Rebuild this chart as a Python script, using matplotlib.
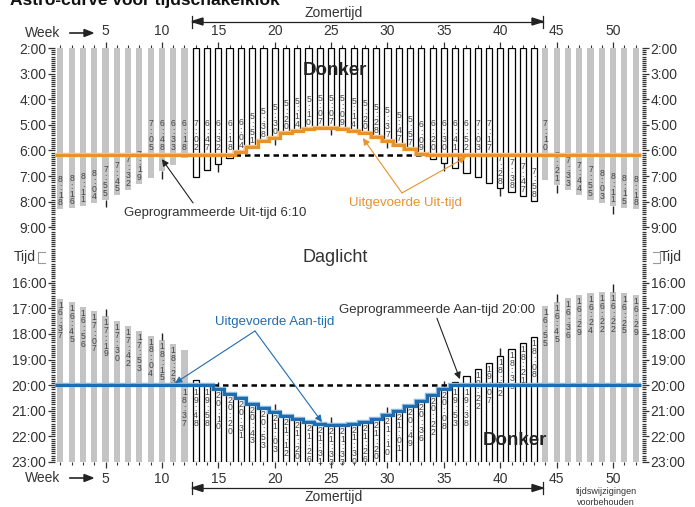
import numpy as np
import matplotlib.pyplot as plt

plt.rcParams['font.family'] = ['Liberation Sans', 'DejaVu Sans']

# ---- data -------------------------------------------------------------
weeks = list(range(1, 53))
summer_weeks = list(range(13, 44))   # zomertijd

sunrise = ['8:18', '8:16', '8:11', '8:04', '7:55', '7:45', '7:32', '7:19', '7:05', '6:48',
           '6:33', '6:18', '7:02', '6:47', '6:32', '6:18', '6:04', '5:51', '5:38', '5:30',
           '5:20', '5:14', '5:10', '5:07', '5:07', '5:09', '5:14', '5:20', '5:28', '5:37',
           '5:47', '5:57', '6:09', '6:20', '6:30', '6:41', '6:52', '7:03', '7:17', '7:28',
           '7:38', '7:47', '7:58', '7:10', '7:21', '7:33', '7:44', '7:55', '8:03', '8:11',
           '8:15', '8:18']
sunset = ['16:37', '16:45', '16:56', '17:07', '17:19', '17:30', '17:42', '17:53', '18:04', '18:15',
          '18:23', '18:37', '19:48', '19:58', '20:10', '20:20', '20:31', '20:43', '20:53', '21:03',
          '21:12', '21:20', '21:26', '21:31', '21:33', '21:33', '21:30', '21:26', '21:20', '21:10',
          '21:01', '20:49', '20:36', '20:22', '20:08', '19:53', '19:38', '19:22', '19:07', '18:52',
          '18:35', '18:21', '18:08', '16:55', '16:45', '16:36', '16:29', '16:24', '16:22', '16:22',
          '16:25', '16:29']
uit_tijd = '6:10'
aan_tijd = '20:00'
top_hours = list(range(2, 10))
bottom_hours = list(range(16, 24))

# ---- helpers ----------------------------------------------------------
W, H = 695, 507
OFFSET = 4 + 50 / 60          # bottom panel shifted up
Y_END = 23 - OFFSET
PXH = 25.6                     # pixels per hour
LINE_PX = 7.3                  # height of one stacked character


def hrs(s):
    h, m = s.split(':')
    return int(h) + int(m) / 60


def fx(x):
    return x / W


def fy(y):
    return 1 - y / H


def stacked(s):
    return '\n'.join(s)


rise = np.array([hrs(s) for s in sunrise])
sset = np.array([hrs(s) for s in sunset])
sset_m = sset - OFFSET
uit = hrs(uit_tijd)
aan = hrs(aan_tijd)
aan_m = aan - OFFSET

GRAY = '#c4c4c4'
TXT = '#333333'
ORANGE = '#e8922c'
BLUE = '#1e6db0'

fig = plt.figure(figsize=(W / 100, H / 100), dpi=100)
ax = fig.add_axes([fx(55.3), 1 - 462 / H, (641.6 - 55.3) / W, (462 - 48) / H])

is_summer = [w in summer_weeks for w in weeks]
fcol = ['white' if s else GRAY for s in is_summer]
ecol = ['black' if s else GRAY for s in is_summer]
lws = [0.9 if s else 0 for s in is_summer]

ax.bar(weeks, rise - 2, bottom=2, width=0.55, color=fcol, edgecolor=ecol, linewidth=lws, zorder=2)
ax.bar(weeks, Y_END - sset_m, bottom=sset_m, width=0.55, color=fcol, edgecolor=ecol,
       linewidth=lws, zorder=2)

# small marks on every 5th week
for w, r, s in zip(weeks, rise, sset_m):
    if w % 5 == 0:
        ax.vlines(w, r, r + 0.3, color='#222222', lw=1, zorder=2)
        ax.vlines(w, s - 0.3, s, color='#222222', lw=1, zorder=2)

# labels in the bars
lab_kw = dict(ha='center', fontsize=6.2, color='#444444', linespacing=0.82, zorder=4)
for w, r, s, txt_r, txt_s, summer in zip(weeks, rise, sset_m, sunrise, sunset, is_summer):
    anchor = r - 2 / PXH
    if r > uit and (r - uit) * 60 < 68:
        anchor = uit - 3 / PXH
    ax.text(w, anchor, stacked(txt_r), va='bottom', **lab_kw)
    lab_h = len(txt_s) * LINE_PX / PXH
    anchor = s + 2 / PXH
    if s < aan_m < s + lab_h and ((not summer) or aan_m - s <= 0.5):
        anchor = aan_m + 3 / PXH
    ax.text(w, anchor, stacked(txt_s), va='top', **lab_kw)

# programmed times (dashed) where the executed time differs
early = [w for w, r in zip(weeks, rise) if r < uit]
ax.hlines(uit, min(early) - 0.5, max(early) + 0.5, color='black', lw=1.8,
          linestyle=(0, (2.2, 1.6)), zorder=3)
late = [w for w, s in zip(weeks, sset) if s > aan]
ax.hlines(aan_m, min(late) - 0.5, max(late) + 0.5, color='black', lw=1.8,
          linestyle=(0, (2.2, 1.6)), zorder=3)

# executed times
edges = np.arange(0.5, 53, 1.0)
uit_exec = np.minimum(rise, uit)
aan_exec = np.maximum(sset_m, aan_m)
ax.stairs(uit_exec, edges, baseline=None, color='#f5c584', lw=3.2, zorder=5)
ax.stairs(uit_exec, edges, baseline=None, color=ORANGE, lw=2.2, zorder=5)
ax.stairs(aan_exec, edges, baseline=None, color='#8dbbe0', lw=3.2, zorder=5)
ax.stairs(aan_exec, edges, baseline=None, color=BLUE, lw=2.2, zorder=5)

# axes
ax.set_xlim(0.548, 52.53)
ax.set_ylim(Y_END, 2)
for sp in ax.spines.values():
    sp.set_visible(False)

ax.set_xticks([w for w in weeks if w % 5 == 0])
ax.set_xticks(weeks, minor=True)
ax.tick_params(axis='x', which='both', top=True, bottom=True, labeltop=True, labelbottom=True,
               direction='out', color='#333333', labelsize=10, labelcolor=TXT, pad=3.5)
ax.tick_params(axis='x', which='major', length=4, width=0.9)
ax.tick_params(axis='x', which='minor', length=2.5, width=0.8)

yt = top_hours + [h - OFFSET for h in bottom_hours]
ylab = [f'{h}:00' for h in top_hours + bottom_hours]
ax.set_yticks(yt, ylab)
ax.set_yticks(np.arange(2, Y_END + 0.001, 5 / 60), minor=True)
ax.tick_params(axis='y', which='both', left=True, right=True, labelleft=True, labelright=True,
               direction='out', color='#333333', labelsize=10, labelcolor=TXT, pad=1.5)
ax.tick_params(axis='y', which='major', length=5, width=0.9)
ax.tick_params(axis='y', which='minor', length=3, width=0.9)

# texts inside the plot
ax.text(25.34, 2.86, 'Donker', ha='center', va='center', fontsize=13.5, weight='bold',
        color='#222222', zorder=6)
ax.text(41.3, 17.31, 'Donker', ha='center', va='center', fontsize=13.5, weight='bold',
        color='#222222', zorder=6)
ax.text(25.34, 10.2, 'Daglicht', ha='center', va='center', fontsize=13, color=TXT, zorder=6)

black_arrow = dict(arrowstyle='-|>', color='#222222', lw=0.8, mutation_scale=10,
                   shrinkA=0, shrinkB=0)
ax.annotate('', xy=(10.0, 6.34), xytext=(12.76, 8.05), arrowprops=black_arrow, zorder=6)
ax.text(14.75, 8.45, 'Geprogrammeerde Uit-tijd 6:10', ha='center', va='center',
        fontsize=9.5, color=TXT, zorder=6)
ax.annotate('', xy=(36.42, 14.93), xytext=(34.38, 12.55), arrowprops=black_arrow, zorder=6)
ax.text(34.38, 12.23, 'Geprogrammeerde Aan-tijd 20:00', ha='center', va='center',
        fontsize=9.5, color=TXT, zorder=6)

orange_arrow = dict(black_arrow, color=ORANGE)
for head in [(27.82, 5.52), (36.96, 6.26)]:
    ax.annotate('', xy=head, xytext=(31.28, 7.66), arrowprops=orange_arrow, zorder=6)
ax.text(31.55, 8.05, 'Uitgevoerde Uit-tijd', ha='center', va='center', fontsize=9.5,
        color=ORANGE, zorder=6)
blue_arrow = dict(black_arrow, color=BLUE)
for head in [(11.16, 15.09), (24.19, 16.61)]:
    ax.annotate('', xy=head, xytext=(18.25, 13.05), arrowprops=blue_arrow, zorder=6)
ax.text(20.03, 12.7, 'Uitgevoerde Aan-tijd', ha='center', va='center', fontsize=9.5,
        color=BLUE, zorder=6)

# texts around the plot (title is cut off at the top edge, as in the original)
fig.text(fx(10), fy(5), 'Astro-curve voor tijdschakelklok', fontsize=12.5, weight='bold',
         va='baseline', color='#111111')

for y_line, y_txt in [(21.5, 13), (488, 497)]:
    fig.add_artist(plt.Line2D([fx(192), fx(543)], [fy(y_line)] * 2, color='#222222', lw=0.9))
    for xe in (192, 543):
        fig.add_artist(plt.Line2D([fx(xe)] * 2, [fy(y_line - 6), fy(y_line + 6)],
                                  color='#222222', lw=0.9))
    fig.patches.append(plt.Polygon([[fx(192), fy(y_line)], [fx(203), fy(y_line - 3.5)],
                                    [fx(203), fy(y_line + 3.5)]], closed=True, color='#222222',
                                   transform=fig.transFigure, figure=fig))
    fig.patches.append(plt.Polygon([[fx(543), fy(y_line)], [fx(532), fy(y_line - 3.5)],
                                    [fx(532), fy(y_line + 3.5)]], closed=True, color='#222222',
                                   transform=fig.transFigure, figure=fig))
    fig.text(fx(334), fy(y_txt), 'Zomertijd', ha='center', va='center', fontsize=10, color=TXT)

for y in (33, 478):
    fig.text(fx(60), fy(y), 'Week', ha='right', va='center', fontsize=10, color=TXT)
    fig.patches.append(plt.Polygon([[fx(93), fy(y)], [fx(84), fy(y - 3.5)], [fx(84), fy(y + 3.5)]],
                                   closed=True, color='#222222', transform=fig.transFigure,
                                   figure=fig))
    fig.add_artist(plt.Line2D([fx(70), fx(85)], [fy(y)] * 2, color='#222222', lw=1.2))

fig.text(fx(36), fy(257), 'Tijd', ha='right', va='center', fontsize=10, color=TXT)
fig.text(fx(660), fy(257), 'Tijd', ha='left', va='center', fontsize=10, color=TXT)
for xs in ([45, 38, 38, 45], [653, 660, 660, 653]):
    fig.add_artist(plt.Line2D([fx(v) for v in xs], [fy(252), fy(252), fy(263), fy(263)],
                              color='#999999', lw=0.8))
fig.text(fx(606), fy(497), 'tijdswijzigingen\nvoorbehouden', ha='center', va='center',
         fontsize=6.5, color=TXT, linespacing=1.3)

fig.savefig('out.png', dpi=100)
